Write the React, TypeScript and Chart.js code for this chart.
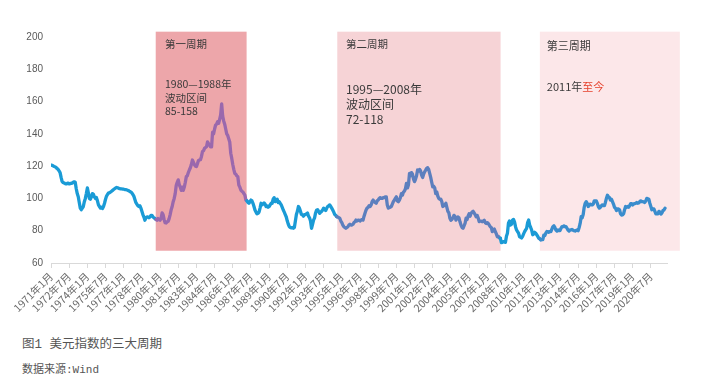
import React, { useEffect, useRef } from "react";
import { Chart, registerables } from "chart.js";

Chart.register(...registerables);

// ---------- DATA ----------
// Monthly US dollar index, 1971-01 .. 2021-09
const dxy1970s = [
  // 1971
  120.7, 120.5, 120.2, 119.8, 119.6, 119.2, 118.5, 118.0, 117.0, 116.0, 113.0, 110.5,
  // 1972
  109.8, 109.5, 109.2, 109.0, 109.3, 109.5, 109.0, 109.2, 109.4, 109.5, 110.0, 110.3,
  // 1973
  110.0, 106.0, 103.0, 101.0, 97.5, 94.0, 93.0, 94.0, 95.0, 98.0, 100.0, 103.0,
  // 1974
  106.5, 103.5, 100.0, 99.5, 101.0, 103.0, 102.5, 101.0, 100.0, 100.5, 98.5, 96.0,
  // 1975
  95.0, 94.0, 94.5, 93.8, 95.0, 97.0, 99.5, 101.5, 102.5, 103.5, 103.5, 104.0,
  // 1976
  104.5, 105.0, 105.5, 106.0, 106.5, 106.8, 106.6, 106.3, 106.0, 105.9, 105.9, 105.8,
  // 1977
  105.7, 105.5, 105.4, 105.3, 105.0, 104.8, 104.3, 104.0, 103.5, 102.5, 101.5, 99.5,
  // 1978
  97.5, 96.5, 95.5, 95.0, 95.5, 94.0, 92.0, 90.0, 88.5, 86.5, 88.0, 88.5,
  // 1979
  88.5, 88.0, 88.5, 89.5, 89.5, 88.5, 88.0, 87.5, 87.0, 86.5, 87.5, 87.0,
];
const dxy1980s = [
  // 1980
  86.5, 87.5, 91.0, 90.0, 87.0, 85.0, 84.8, 85.5, 85.8, 87.5, 90.0, 93.0,
  // 1981
  95.0, 98.0, 100.0, 103.0, 108.0, 110.0, 111.5, 108.5, 107.0, 105.0, 107.0, 105.0,
  // 1982
  107.0, 110.0, 113.5, 114.0, 116.0, 117.6, 119.0, 121.0, 123.8, 122.5, 121.0, 120.0,
  // 1983
  119.7, 121.5, 123.5, 123.8, 124.0, 126.0, 129.0, 129.5, 131.0, 131.5, 132.0, 135.0,
  // 1984
  134.0, 133.0, 132.0, 132.0, 141.0, 140.0, 143.0, 145.5, 146.0, 147.5, 146.5, 149.0,
  // 1985
  151.7, 158.5, 151.0, 148.0, 146.0, 143.0, 140.0, 139.0, 137.0, 135.0, 128.0, 124.8,
  // 1986
  121.0, 118.0, 115.5, 115.0, 114.0, 113.4, 108.3, 107.0, 105.2, 104.5, 104.0, 103.0,
  // 1987
  102.0, 99.0, 98.5, 97.5, 97.0, 98.0, 99.0, 98.5, 97.0, 95.0, 92.8, 91.5,
  // 1988
  90.5, 90.8, 91.5, 94.0, 97.0, 96.0, 96.5, 97.2, 96.5, 95.0, 95.3, 94.5,
  // 1989
  95.0, 96.0, 97.0, 97.0, 99.5, 100.5, 98.0, 98.5, 99.5, 97.5, 98.0, 97.0,
];
const dxy1990s = [
  // 1990
  96.0, 94.5, 92.8, 91.5, 90.0, 88.5, 86.0, 84.0, 82.5, 82.0, 81.8, 82.0,
  // 1991
  81.5, 82.0, 86.0, 90.0, 92.0, 95.0, 94.0, 92.0, 90.0, 90.0, 89.0, 90.0,
  // 1992
  90.0, 90.5, 91.0, 89.0, 88.0, 86.0, 81.5, 84.0, 86.6, 88.0, 91.0, 92.8,
  // 1993
  93.0, 92.0, 90.8, 91.5, 92.0, 92.8, 94.0, 93.0, 92.5, 93.9, 95.0, 95.5,
  // 1994
  96.0, 95.0, 94.0, 92.8, 91.5, 90.0, 89.5, 88.7, 88.5, 88.0, 87.7, 86.0,
  // 1995
  85.0, 83.5, 82.5, 82.0, 81.5, 82.0, 82.5, 83.5, 84.0, 83.5, 83.5, 84.0,
  // 1996
  85.0, 85.5, 86.6, 86.0, 86.5, 86.5, 86.0, 86.6, 87.0, 86.6, 89.0, 91.0,
  // 1997
  92.8, 94.0, 94.5, 95.5, 95.0, 96.0, 98.0, 99.0, 98.0, 97.5, 97.0, 98.5,
  // 1998
  99.0, 100.0, 100.5, 100.0, 100.0, 100.5, 100.5, 101.0, 101.0, 96.0, 94.0, 94.5,
  // 1999
  94.5, 95.0, 96.5, 98.0, 99.0, 100.0, 101.0, 98.5, 98.0, 99.0, 100.5, 103.0,
];
const dxy2000s = [
  // 2000
  102.0, 104.0, 104.5, 106.0, 109.3, 106.5, 108.5, 115.5, 114.0, 116.0, 115.0, 112.0,
  // 2001
  110.4, 112.0, 114.0, 117.6, 117.0, 118.0, 117.0, 114.5, 113.0, 115.0, 116.5, 117.5,
  // 2002
  118.6, 119.0, 118.0, 115.5, 113.0, 110.0, 107.2, 107.5, 106.5, 103.0, 104.0, 101.5,
  // 2003
  100.0, 99.5, 99.5, 98.0, 95.0, 95.5, 96.0, 97.0, 94.5, 92.0, 91.0, 87.7,
  // 2004
  86.5, 87.0, 88.0, 89.5, 89.0, 86.6, 87.5, 88.5, 88.0, 85.5, 83.5, 82.0,
  // 2005
  81.5, 83.0, 84.5, 87.7, 87.0, 89.0, 90.5, 89.0, 90.8, 91.5, 92.0, 91.0,
  // 2006
  90.0, 88.7, 89.5, 88.0, 85.6, 86.0, 86.0, 85.5, 86.0, 86.5, 85.0, 84.5,
  // 2007
  85.0, 84.5, 83.5, 82.5, 82.0, 79.4, 80.5, 81.0, 79.5, 78.0, 76.3, 76.5,
  // 2008
  75.5, 75.3, 72.6, 72.8, 73.2, 73.0, 72.8, 76.5, 78.5, 84.6, 86.0, 83.5,
  // 2009
  84.0, 86.6, 87.0, 85.5, 82.5, 80.5, 79.5, 78.5, 76.3, 76.0, 75.5, 76.5,
];
const dxy2010s = [
  // 2010
  78.0, 79.4, 80.5, 81.5, 85.0, 86.6, 83.5, 82.0, 80.4, 77.5, 78.0, 79.0,
  // 2011
  78.4, 77.5, 76.5, 75.3, 75.0, 74.2, 74.5, 74.5, 77.3, 77.0, 78.5, 79.5,
  // 2012
  79.4, 79.0, 79.5, 79.5, 81.0, 82.5, 83.0, 82.0, 80.4, 79.8, 80.5, 80.0,
  // 2013
  80.0, 81.5, 82.5, 82.5, 83.0, 82.5, 82.5, 81.5, 80.4, 79.8, 80.5, 80.5,
  // 2014
  80.8, 80.3, 80.0, 79.8, 80.2, 80.5, 80.0, 82.0, 84.5, 88.7, 88.0, 90.0,
  // 2015
  94.5, 97.0, 98.0, 97.0, 95.0, 96.0, 96.5, 96.0, 96.0, 96.5, 98.5, 98.5,
  // 2016
  98.5, 97.0, 95.0, 94.0, 94.5, 95.5, 96.0, 95.5, 95.5, 97.5, 100.0, 102.0,
  // 2017
  101.0, 100.5, 99.0, 99.5, 98.0, 96.5, 94.5, 93.9, 92.5, 93.5, 93.5, 93.0,
  // 2018
  90.5, 89.7, 89.8, 90.5, 93.0, 95.0, 94.5, 95.0, 94.5, 95.5, 96.8, 96.8,
  // 2019
  96.0, 96.5, 96.8, 97.0, 97.5, 97.0, 97.2, 98.0, 98.5, 98.0, 98.0, 97.8,
];
const dxy2020s = [
  // 2020
  97.5, 98.5, 100.0, 99.8, 99.5, 97.0, 95.0, 93.0, 93.5, 93.5, 92.0, 90.5,
  // 2021
  90.5, 90.5, 92.0, 91.5, 90.3, 91.0, 92.5, 92.8, 93.9,
];

// x-axis tick labels (one every 18 months from 1971年1月)
const tickLabels = [
  "1971年1月", "1972年7月", "1974年1月", "1975年7月", "1977年1月", "1978年7月",
  "1980年1月", "1981年7月", "1983年1月", "1984年7月", "1986年1月", "1987年7月",
  "1989年1月", "1990年7月", "1992年1月", "1993年7月", "1995年1月", "1996年7月",
  "1998年1月", "1999年7月", "2001年1月", "2002年7月", "2004年1月", "2005年7月",
  "2007年1月", "2008年7月", "2010年1月", "2011年7月", "2013年1月", "2014年7月",
  "2016年1月", "2017年7月", "2019年1月", "2020年7月",
];
const tickStep = 18; // months between labelled ticks
const xMaxMonth = 610;

// Highlighted cycles (month index from 1971-01, index values)
const periodNames = ["第一周期", "第二周期", "第三周期"];
const periodStart = [103.7, 283.5, 484.1];
const periodEnd = [193.7, 445.2, 622.7];
const periodTop = 203.3;
const periodBottom = 67.6;
const periodNotes = [
  ["1980—1988年", "波动区间", "85-158"],
  ["1995—2008年", "波动区间", "72-118"],
  ["2011年|至今"],
];

// ---------- STYLES ----------
const PERIOD_FILLS = ["#EDA6AA", "#F6D3D6", "#FCE7E9"];
const PERIOD_LINE = ["#9A68AD", "#5C7FBE", "#3A8DCD"];
const BASE_LINE = "#1A9BD6";
const TEXT_FONT = '"Liberation Sans Narrow", "Noto Sans CJK SC", sans-serif';
const periodTextStyle = [
  { dx: 9.3, title: 12.3, titleSize: 10.5, size: 10.5, lines: [52.3, 66.8, 79.3] },
  { dx: 8.7, title: 12.3, titleSize: 10.5, size: 12, lines: [57.3, 72.3, 87.3] },
  { dx: 7, title: 14.3, titleSize: 11, size: 11, lines: [55.3] },
];

const periodPlugin = {
  id: "periods",
  beforeDatasetsDraw(chart: any) {
    const { ctx } = chart;
    const x = chart.scales.x;
    const y = chart.scales.y;
    ctx.save();
    periodStart.forEach((s: number, i: number) => {
      const x0 = x.getPixelForValue(s);
      const x1 = x.getPixelForValue(periodEnd[i]);
      const y0 = y.getPixelForValue(periodTop);
      const y1 = y.getPixelForValue(periodBottom);
      ctx.fillStyle = PERIOD_FILLS[i];
      ctx.fillRect(x0, y0, x1 - x0, y1 - y0);

      const st = periodTextStyle[i];
      ctx.textBaseline = "middle";
      ctx.textAlign = "left";
      ctx.fillStyle = "#3a3a3a";
      ctx.font = `${st.titleSize}px ${TEXT_FONT}`;
      ctx.fillText(periodNames[i], x0 + st.dx, y0 + st.title);
      ctx.font = `${st.size}px ${TEXT_FONT}`;
      periodNotes[i].forEach((line: string, k: number) => {
        const parts = line.split("|");
        let cx = x0 + st.dx;
        parts.forEach((p: string, pi: number) => {
          ctx.fillStyle = pi === 0 ? "#3a3a3a" : "#E5412D";
          ctx.fillText(p, cx, y0 + st.lines[k]);
          cx += ctx.measureText(p).width;
        });
      });
    });
    ctx.restore();
  },
};

export default function App() {
  const ref = useRef<HTMLCanvasElement>(null);

  useEffect(() => {
    const values = [...dxy1970s, ...dxy1980s, ...dxy1990s, ...dxy2000s, ...dxy2010s, ...dxy2020s];
    const points = values.map((v, i) => ({ x: i, y: v }));
    const lineColor = (c: any) => {
      const mid = (c.p0.parsed.x + c.p1.parsed.x) / 2;
      for (let i = 0; i < periodStart.length; i++) {
        if (mid >= periodStart[i] && mid <= periodEnd[i]) return PERIOD_LINE[i];
      }
      return BASE_LINE;
    };
    const chart = new Chart(ref.current as HTMLCanvasElement, {
      type: "line",
      data: {
        datasets: [
          {
            data: points,
            borderColor: BASE_LINE,
            borderWidth: 3.3,
            pointRadius: 0,
            tension: 0,
            borderJoinStyle: "round",
            borderCapStyle: "round",
            segment: { borderColor: lineColor },
          } as any,
        ],
      },
      options: {
        responsive: false,
        animation: false,
        devicePixelRatio: 1,
        layout: { padding: { left: 0, right: 34, top: 37, bottom: 0 } },
        plugins: { legend: { display: false }, tooltip: { enabled: false } },
        scales: {
          x: {
            type: "linear",
            min: 0,
            max: xMaxMonth,
            afterBuildTicks: (scale: any) => {
              scale.ticks = tickLabels.map((_, i) => ({ value: i * tickStep }));
            },
            afterFit: (scale: any) => {
              scale.height = 67;
            },
            ticks: {
              autoSkip: false,
              maxRotation: 45,
              minRotation: 45,
              padding: 2,
              color: "#6a6a6a",
              font: { family: '"Noto Sans CJK SC", sans-serif', size: 10.5 },
              callback: (_v: any, i: number) => tickLabels[i],
            },
            grid: { display: true, drawOnChartArea: false, drawTicks: true, tickLength: 5, color: "#D9D9D9" },
            border: { display: true, color: "#D9D9D9", width: 1 },
          },
          y: {
            min: 60,
            max: 200,
            afterFit: (scale: any) => {
              scale.width = 51;
            },
            ticks: {
              stepSize: 20,
              padding: 8,
              color: "#595959",
              font: { family: '"Liberation Sans", sans-serif', size: 10 },
            },
            grid: { display: false, drawTicks: false },
            border: { display: false },
          },
        },
      },
      plugins: [periodPlugin],
    } as any);
    return () => chart.destroy();
  }, []);

  return (
    <div
      style={{
        position: "fixed",
        left: 0,
        top: 0,
        width: 701,
        height: 388,
        background: "#ffffff",
        overflow: "hidden",
      }}
    >
      <canvas
        ref={ref}
        width={701}
        height={330}
        style={{ position: "absolute", left: 0, top: 0, width: 701, height: 330 }}
      />
      <div
        style={{
          position: "absolute",
          left: 22,
          top: 337,
          fontSize: 12.5,
          lineHeight: "17px",
          color: "#555555",
          fontFamily: '"Liberation Mono", "Noto Sans CJK SC", monospace',
          whiteSpace: "nowrap",
        }}
      >
        图1 美元指数的三大周期
      </div>
      <div
        style={{
          position: "absolute",
          left: 22,
          top: 363,
          fontSize: 11,
          lineHeight: "15px",
          color: "#555555",
          fontFamily: '"Liberation Mono", "Noto Sans CJK SC", monospace',
          whiteSpace: "nowrap",
        }}
      >
        数据来源:Wind
      </div>
    </div>
  );
}
